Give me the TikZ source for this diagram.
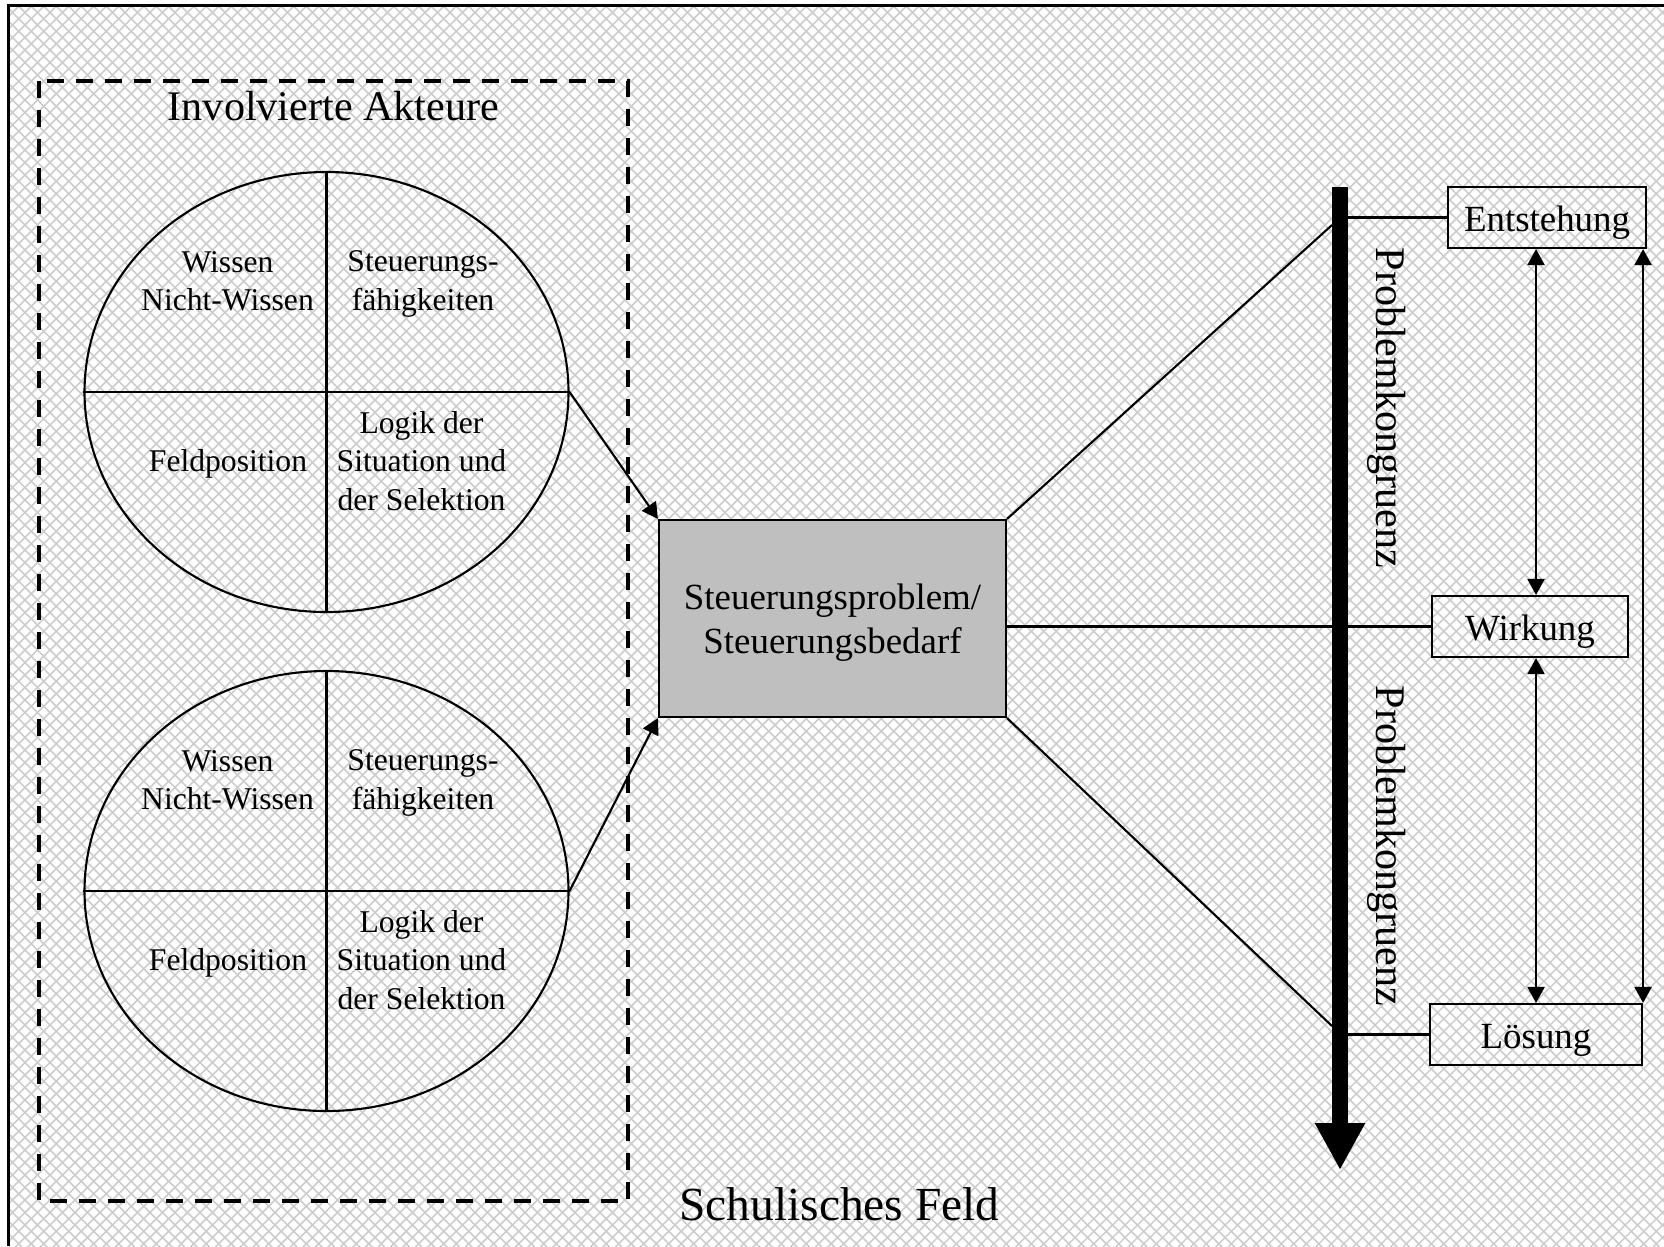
\documentclass[tikz,border=0pt]{standalone}
\usepackage{fontspec}
\setmainfont{Liberation Serif}
\usetikzlibrary{arrows.meta}
\usetikzlibrary{shapes.geometric}
\newcommand{\txtS}{\fontsize{9}{10.9}\selectfont}
\newcommand{\txtM}{\fontsize{10.5}{12.7}\selectfont}
\newcommand{\txtL}{\fontsize{12}{14}\selectfont}
\newcommand{\txtXL}{\fontsize{13.5}{16}\selectfont}

\begin{document}
\begin{tikzpicture}[line width=0.6pt,>={Triangle[length=0.16cm,width=0.17cm]}]
      \useasboundingbox (0,0) rectangle (16.64,-12.46);

      % hatched field
      \begin{scope}
          \clip (0.085,-0.055) rectangle (16.64,-12.46);
          \foreach \i in {0,...,235} {
              \draw[black!20,line width=0.015cm] (\i*0.125-12.5,0) -- ++(12.5,-12.5);
              \draw[black!20,line width=0.015cm] (\i*0.125,0) -- ++(-12.5,-12.5);
          }
      \end{scope}
      \draw[line width=0.8pt] (16.64,-0.055) -- (0.085,-0.055) -- (0.085,-12.46);

      % involved actors
      \draw[line width=0.04cm,dash pattern=on 0.17cm off 0.12cm] (0.39,-0.81) rectangle (6.28,-12.01);
      \node[anchor=base,font=\txtL] (akteure) at (3.335,-1.20) {Involvierte Akteure};

      \begin{scope}[shape=ellipse,minimum width=4.84cm,minimum height=4.40cm,inner sep=0pt]
          \tikzstyle{every node}=[draw]
          \node (aktA) at (3.265,-3.92) {};
          \node (aktB) at (3.265,-8.91) {};
      \end{scope}
      \draw (aktA.north) -- (aktA.south);
      \draw (aktA.west)  -- (aktA.east);
      \draw (aktB.north) -- (aktB.south);
      \draw (aktB.west)  -- (aktB.east);

      \begin{scope}[font=\txtS,align=center]
          \node (wissA)  at (2.275,-2.81) {Wissen\\Nicht-Wissen};
          \node (steuA)  at (4.23 ,-2.84) {Steuerungs-\\fähigkeiten};
          \node[anchor=base] (feldA) at (2.28,-4.715) {Feldposition};
          \node (logikA) at (4.215,-4.61) {Logik der\\Situation und\\der Selektion};
          \node (wissB)  at (2.275,-7.80) {Wissen\\Nicht-Wissen};
          \node (steuB)  at (4.23 ,-7.83) {Steuerungs-\\fähigkeiten};
          \node[anchor=base] (feldB) at (2.28,-9.705) {Feldposition};
          \node (logikB) at (4.215,-9.60) {Logik der\\Situation und\\der Selektion};
      \end{scope}

      % steering problem
      \node[draw,fill=black!25,minimum width=3.47cm,minimum height=1.97cm] (prob) at (8.325,-6.185) {};
      \node[font=\txtM,align=center] (probtxt) at (8.325,-6.225) {Steuerungsproblem/\\Steuerungsbedarf};

      \begin{scope}[rotate=-90,minimum width=1.82cm,minimum height=0.77cm,inner sep=1pt,font=\txtS,align=center]
          \tikzstyle{every node}=[draw,fill=black!25]
          \node (loesb)  at (7.415,-3.68) {Lösbarkeit};
          \node (kompl)  at (8.87 ,-3.68) {Komplexität};
          \node (interd) at (7.42 ,-8.68) {Interde-\\pendenz};
          \node (reichw) at (8.935,-8.68) {Reichweite/\\Umfang};
      \end{scope}

      \draw (loesb.east) -- (loesb.east |- prob.north);
      \draw (kompl.east) -- (kompl.east |- prob.north);
      \draw ([xshift=-0.08cm]interd.west)  -- ([xshift=-0.08cm]interd.west |- prob.south);
      \draw ([xshift=-0.075cm]reichw.west) -- ([xshift=-0.075cm]reichw.west |- prob.south);

      \draw[->] (aktA.east) -- (prob.north west);
      \draw[->] (aktB.east) -- (prob.south west);

      % problem congruence
      \begin{scope}[minimum height=0.61cm,inner ysep=1pt,font=\txtM,text height=10.3pt,text depth=2.3pt]
          \tikzstyle{every node}=[draw]
          \node[minimum width=1.98cm] (entst) at (15.47,-2.175)  {Entstehung};
          \node[minimum width=1.96cm] (wirk)  at (15.30,-6.265)  {Wirkung};
          \node[minimum width=2.12cm] (loes)  at (15.36,-10.345) {Lösung};
      \end{scope}

      \node[rotate=-90,font=\txtL] (kongA) at (13.87,-4.08) {Problemkongruenz};
      \node[rotate=-90,font=\txtL] (kongB) at (13.87,-8.46) {Problemkongruenz};

      \coordinate (bartop) at (13.40,-1.87);
      \coordinate (bartip) at (13.40,-11.70);
      \coordinate (kT) at (13.32,-2.25);
      \coordinate (kB) at (13.32,-10.26);

      \draw (prob.north east) -- (kT);
      \draw (prob.south east) -- (kB);
      \draw (wirk.west)  -- (wirk.west -| prob.east);
      \draw (entst.west) -- (entst.west -| bartop);
      \draw (loes.west)  -- (loes.west -| bartop);
      \draw[line width=0.16cm,-{Triangle[length=0.47cm,width=0.47cm]}] (bartop) -- (bartip);

      \draw[<->] (entst.south -| loes.north) -- (wirk.north -| loes.north);
      \draw[<->] (wirk.south -| loes.north)  -- (loes.north);
      \draw[<->] (entst.south -| loes.north east) -- (loes.north east);

      \node[anchor=base,font=\txtXL] (feld) at (8.395,-12.20) {Schulisches Feld};
  \end{tikzpicture}
\end{document}
